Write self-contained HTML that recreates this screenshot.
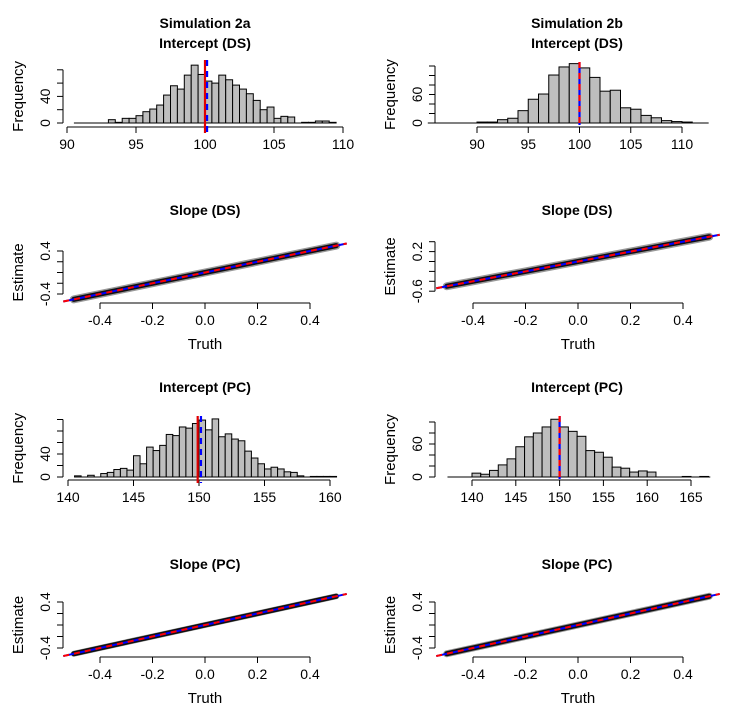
<!DOCTYPE html>
<html><head><meta charset="utf-8"><style>
html,body{margin:0;padding:0;background:#fff;}
svg{display:block;font-family:"Liberation Sans",Arial,sans-serif;}
</style></head><body>
<svg id="chart" width="745" height="707" viewBox="0 0 745 707" xmlns="http://www.w3.org/2000/svg"></svg>
<script>
// ---- data ----
const h1Start = 90.5; const h1Width = 0.5;
const h1Counts = [0,0,0,0,0,5,1,7,7,11,17,21,27,42,56,51,72,87,73,63,60,72,65,57,51,44,34,20,24,7,10,9,0,1,1,3,3,1];
const h2Start = 85; const h2Width = 1;
const h2Counts = [0,0,0,0,0,2,2,7,10,26,50,61,101,118,125,116,96,67,69,32,29,16,11,5,3,2,0,0];
const h3Start = 140.5; const h3Width = 0.5;
const h3Counts = [2,0,3,0,6,8,13,15,12,37,23,52,46,55,74,72,87,85,93,99,82,101,70,75,66,63,45,33,23,14,17,14,9,8,2,0,1,1,1,1];
const h4Start = 137; const h4Width = 1;
const h4Counts = [0,0,0,7,5,12,22,33,55,73,80,91,105,91,83,74,48,45,36,18,16,9,11,9,0,0,0,1,0,1];
const slopeTruth = [-0.5,-0.4,-0.3,-0.2,-0.1,0,0.1,0.2,0.3,0.4,0.5];
const slopeEstDS2a = [-0.5,-0.4,-0.3,-0.2,-0.1,0,0.1,0.2,0.3,0.4,0.5];
const slopeEstDS2b = [-0.5,-0.4,-0.3,-0.2,-0.1,0,0.1,0.2,0.3,0.4,0.5];
const slopeEstPC2a = [-0.5,-0.4,-0.3,-0.2,-0.1,0,0.1,0.2,0.3,0.4,0.5];
const slopeEstPC2b = [-0.5,-0.4,-0.3,-0.2,-0.1,0,0.1,0.2,0.3,0.4,0.5];
const xTicks1 = [90,95,100,105,110];
const xTicks2 = [90,95,100,105,110];
const xTicks3 = [140,145,150,155,160];
const xTicks4 = [140,145,150,155,160,165];
const slopeXTicks = [-0.4,-0.2,0.0,0.2,0.4];
const slopeXLabels = ["-0.4","-0.2","0.0","0.2","0.4"];

const svg = document.getElementById('chart');
const NS = 'http://www.w3.org/2000/svg';
function mk(tag, attrs, parent){const e=document.createElementNS(NS,tag);for(const k in attrs)e.setAttribute(k,attrs[k]);(parent||svg).appendChild(e);return e;}
function txt(s,x,y,opts,parent){const t=mk('text',Object.assign({x:x,y:y,'text-anchor':'middle','font-size':14,fill:'#000'},opts||{}),parent);t.textContent=s;return t;}

function title(lines,cx,y0){
  lines.forEach((l,i)=>{const t=txt(l,cx,y0+i*20,{'font-weight':'bold','font-size':14});
    
    });
}

function hist(cfg){
  const g=mk('g',{});
  
  
  const X=v=>cfg.px0+(v-cfg.x0)*cfg.sx;
  const Y=f=>cfg.py0-f*cfg.sy;
  const n=cfg.counts.length;
  const base=mk('line',{x1:X(cfg.baseFrom),x2:X(cfg.baseTo),y1:Y(0),y2:Y(0),stroke:'#000','stroke-width':1},g);
  
  
  for(let i=0;i<n;i++){
    const c=cfg.counts[i]; if(c<=0) continue;
    const a=cfg.start+i*cfg.width;
    const r=mk('rect',{x:X(a),y:Y(c),width:cfg.width*cfg.sx,height:c*cfg.sy,fill:'#bebebe',stroke:'#000','stroke-width':1},g);
    
    
  }
  const xt=cfg.xticks;
  const ax=mk('line',{x1:X(xt[0]),x2:X(xt[xt.length-1]),y1:cfg.axY,y2:cfg.axY,stroke:'#000'},g);
  
  
  xt.forEach(v=>{mk('line',{x1:X(v),x2:X(v),y1:cfg.axY,y2:cfg.axY+6,stroke:'#000'},g);
    const t=txt(String(v),X(v),cfg.axY+22,{},g);
    
    });
  const yt=cfg.yticks;
  const ay=mk('line',{x1:cfg.ayX,x2:cfg.ayX,y1:Y(yt[0]),y2:Y(yt[yt.length-1]),stroke:'#000'},g);
  
  
  yt.forEach(v=>mk('line',{x1:cfg.ayX-6,x2:cfg.ayX,y1:Y(v),y2:Y(v),stroke:'#000'},g));
  cfg.ylabels.forEach(v=>{const t=txt(String(v),0,0,{transform:`translate(${cfg.ayX-13},${Y(v)}) rotate(-90)`},g);
    
    });
  const yl=txt('Frequency',0,0,{transform:`translate(${cfg.ayX-40},${(Y(0)+Y(yt[yt.length-1]))/2}) rotate(-90)`,'font-size':15},g);
  
  
  let rl,bl;
  if(cfg.redDash){
    bl=mk('line',{x1:X(cfg.blueX),x2:X(cfg.blueX),y1:cfg.vTop,y2:cfg.vBot,stroke:'#0000ff','stroke-width':2.2},g);
    rl=mk('line',{x1:X(cfg.redX),x2:X(cfg.redX),y1:cfg.vTop,y2:cfg.vBot,stroke:'#ff0000','stroke-width':2.2,'stroke-dasharray':'6,5'},g);
  } else {
    rl=mk('line',{x1:X(cfg.redX),x2:X(cfg.redX),y1:cfg.vTop,y2:cfg.vBot,stroke:'#e00000','stroke-width':2.2},g);
    bl=mk('line',{x1:X(cfg.blueX),x2:X(cfg.blueX),y1:cfg.vTop,y2:cfg.vBot,stroke:'#0000ff','stroke-width':2.2,'stroke-dasharray':'6,5'},g);
  }
  
  
  
  
}

function slope(cfg){
  const g=mk('g',{});
  
  
  const X=v=>cfg.px0+v*cfg.sx;
  const Y=v=>cfg.py0-v*cfg.sy;
  const pts=cfg.truth.map((t,i)=>X(t)+','+Y(cfg.est[i])).join(' ');
  const halo=mk('polyline',{points:pts,fill:'none',stroke:'#808080','stroke-width':cfg.halo,'stroke-linecap':'round','opacity':0.8},g);
  
  
  const core=mk('polyline',{points:pts,fill:'none',stroke:'#111','stroke-width':cfg.core,'stroke-linecap':'round'},g);
  
  
  const l0=cfg.lineFrom,l1=cfg.lineTo;
  const bl=mk('line',{x1:X(l0),y1:Y(l0),x2:X(l1),y2:Y(l1),stroke:'#0000ff','stroke-width':2},g);
  
  
  const rl=mk('line',{x1:X(l0),y1:Y(l0),x2:X(l1),y2:Y(l1),stroke:'#ff0000','stroke-width':2,'stroke-dasharray':'6,5'},g);
  
  
  const ax=mk('line',{x1:X(slopeXTicks[0]),x2:X(slopeXTicks[slopeXTicks.length-1]),y1:cfg.axY,y2:cfg.axY,stroke:'#000'},g);
  
  
  slopeXTicks.forEach((v,i)=>{mk('line',{x1:X(v),x2:X(v),y1:cfg.axY,y2:cfg.axY+6,stroke:'#000'},g);
    const t=txt(slopeXLabels[i],X(v),cfg.axY+22,{},g);
    
    });
  const xl=txt('Truth',X(0),cfg.axY+46,{'font-size':15},g);
  
  
  const yt=cfg.yticks;
  const ay=mk('line',{x1:cfg.ayX,x2:cfg.ayX,y1:Y(yt[0]),y2:Y(yt[yt.length-1]),stroke:'#000'},g);
  
  
  yt.forEach(v=>mk('line',{x1:cfg.ayX-6,x2:cfg.ayX,y1:Y(v),y2:Y(v),stroke:'#000'},g));
  cfg.ylabels.forEach(v=>{const t=txt(String(v),0,0,{transform:`translate(${cfg.ayX-13},${Y(v)}) rotate(-90)`},g);
    
    });
  const yl=txt('Estimate',0,0,{transform:`translate(${cfg.ayX-40},${(Y(yt[0])+Y(yt[yt.length-1]))/2}) rotate(-90)`,'font-size':15},g);
  
  
}

title(['Simulation 2a','Intercept (DS)'],205,28);
title(['Simulation 2b','Intercept (DS)'],577,28);
title(['Slope (DS)'],205,215);
title(['Slope (DS)'],577,215);
title(['Intercept (PC)'],205,392);
title(['Intercept (PC)'],577,392);
title(['Slope (PC)'],205,569);
title(['Slope (PC)'],577,569);

hist({name:'hist-intercept-ds-2a',counts:h1Counts,start:h1Start,width:h1Width,x0:90,px0:67,sx:13.8,py0:123,sy:0.665,
  baseFrom:90.5,baseTo:109.5,xticks:xTicks1,axY:127,yticks:[0,20,40,60,80],ylabels:[0,40],ayX:63,
  redX:100,blueX:100.15,vTop:60,vBot:133});
hist({name:'hist-intercept-ds-2b',counts:h2Counts,start:h2Start,width:h2Width,x0:90,px0:477,sx:10.25,py0:123,sy:0.475,
  baseFrom:85.2,baseTo:112.6,xticks:xTicks2,axY:127,yticks:[0,20,40,60,80,100,120],ylabels:[0,60],ayX:435,
  redX:100,blueX:100,redDash:true,vTop:62,vBot:125});
hist({name:'hist-intercept-pc-2a',counts:h3Counts,start:h3Start,width:h3Width,x0:140,px0:68,sx:13.1,py0:477,sy:0.575,
  baseFrom:140.5,baseTo:160.5,xticks:xTicks3,axY:480,yticks:[0,20,40,60,80,100],ylabels:[0,40],ayX:63,
  redX:149.9,blueX:150.15,vTop:416,vBot:483});
hist({name:'hist-intercept-pc-2b',counts:h4Counts,start:h4Start,width:h4Width,x0:140,px0:472,sx:8.76,py0:477,sy:0.55,
  baseFrom:137.2,baseTo:167.2,xticks:xTicks4,axY:480,yticks:[0,20,40,60,80,100],ylabels:[0,60],ayX:435,
  redX:150,blueX:150,redDash:true,vTop:416,vBot:479});

slope({name:'scatter-slope-ds-2a',truth:slopeTruth,est:slopeEstDS2a,px0:205,sx:262.5,py0:272.5,sy:53.75,halo:8,core:5,
  lineFrom:-0.54,lineTo:0.54,axY:303,yticks:[-0.4,-0.2,0,0.2,0.4],ylabels:['-0.4','0.4'],ayX:63});
slope({name:'scatter-slope-ds-2b',truth:slopeTruth,est:slopeEstDS2b,px0:578,sx:262.5,py0:261.5,sy:49.5,halo:8,core:5,
  lineFrom:-0.54,lineTo:0.54,axY:303,yticks:[-0.6,-0.4,-0.2,0,0.2,0.4],ylabels:['-0.6','0.2'],ayX:435});
slope({name:'scatter-slope-pc-2a',truth:slopeTruth,est:slopeEstPC2a,px0:205,sx:262.5,py0:625,sy:57.5,halo:6,core:5,
  lineFrom:-0.54,lineTo:0.54,axY:657,yticks:[-0.4,-0.2,0,0.2,0.4],ylabels:['-0.4','0.4'],ayX:63});
slope({name:'scatter-slope-pc-2b',truth:slopeTruth,est:slopeEstPC2b,px0:578,sx:262.5,py0:625,sy:57.5,halo:7,core:5,
  lineFrom:-0.54,lineTo:0.54,axY:657,yticks:[-0.4,-0.2,0,0.2,0.4],ylabels:['-0.4','0.4'],ayX:435});
</script>
</body></html>
